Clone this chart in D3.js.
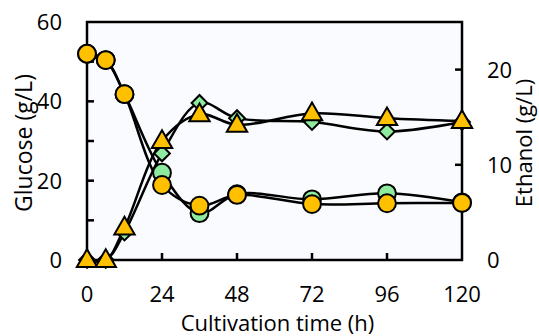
<!DOCTYPE html>
<html>
<head>
<meta charset="utf-8">
<script src="https://cdn.jsdelivr.net/npm/d3@7"></script>
<style>
  body { margin: 0; background: #fff; }
  text { font-family: "Open Sans", "Noto Sans", sans-serif; fill: #000; }
</style>
</head>
<body>
<div id="chart"></div>
<script>
// sampling times (h)
const times = [0, 6, 12, 24, 36, 48, 72, 96, 120];

// glucose (g/L), left axis
const glucoseGreen = [52, 50.4, 41.8, 22, 11.8, 16.6, 15.3, 16.8, 14.5];
const glucoseOrange = [52, 50.4, 41.8, 18.9, 13.7, 16.4, 14.1, 14.3, 14.4];

// ethanol (g/L), right axis
const ethanolGreen = [0, 0, 2.9, 11.2, 16.5, 14.9, 14.5, 13.5, 14.5];
const ethanolOrange = [0, 0, 3.4, 12.5, 15.3, 14.2, 15.4, 14.9, 14.6];

const xTicks = [0, 24, 48, 72, 96, 120];
const leftTicks = [0, 10, 20, 30, 40, 50, 60];
const leftLabels = [0, 20, 40, 60];
const rightTicks = [0, 10, 20];

const width = 539, height = 336;
const margin = {left: 87, right: 77, top: 22, bottom: 76};

const svg = d3.select('#chart').append('svg')
  .attr('width', width)
  .attr('height', height);

const x = d3.scaleLinear().domain([0, 120]).range([margin.left, width - margin.right]);
const yL = d3.scaleLinear().domain([0, 60]).range([height - margin.bottom, margin.top]);
const yR = d3.scaleLinear().domain([0, 25]).range([height - margin.bottom, margin.top]);

// plot background
svg.append('rect')
  .attr('x', x(0)).attr('y', yL(60))
  .attr('width', x(120) - x(0)).attr('height', yL(0) - yL(60))
  .attr('fill', '#f9fbff');

// inward ticks
const tickLen = 7;
svg.append('g').selectAll('line').data(xTicks.slice(1, -1)).join('line')
  .attr('x1', d => x(d)).attr('x2', d => x(d))
  .attr('y1', yL(0)).attr('y2', yL(0) - tickLen)
  .attr('stroke', '#000').attr('stroke-width', 2.5);
svg.append('g').selectAll('line').data(leftTicks.slice(1, -1)).join('line')
  .attr('x1', x(0)).attr('x2', x(0) + tickLen)
  .attr('y1', d => yL(d)).attr('y2', d => yL(d))
  .attr('stroke', '#000').attr('stroke-width', 2.5);
svg.append('g').selectAll('line').data(rightTicks.slice(1)).join('line')
  .attr('x1', x(120)).attr('x2', x(120) - tickLen)
  .attr('y1', d => yR(d)).attr('y2', d => yR(d))
  .attr('stroke', '#000').attr('stroke-width', 2.5);

// frame
svg.append('rect')
  .attr('x', x(0)).attr('y', yL(60))
  .attr('width', x(120) - x(0)).attr('height', yL(0) - yL(60))
  .attr('fill', 'none').attr('stroke', '#000').attr('stroke-width', 2.5);

// tick labels
svg.append('g').selectAll('text').data(xTicks).join('text')
  .attr('x', d => x(d)).attr('y', 302)
  .attr('text-anchor', 'middle').attr('font-size', 22)
  .text(d => d);
svg.append('g').selectAll('text').data(leftLabels).join('text')
  .attr('x', 62).attr('y', d => yL(d) + 8)
  .attr('text-anchor', 'end').attr('font-size', 22)
  .text(d => d);
svg.append('g').selectAll('text').data(rightTicks).join('text')
  .attr('x', 487).attr('y', d => yR(d) + 8)
  .attr('text-anchor', 'start').attr('font-size', 22)
  .text(d => d);

// axis titles
svg.append('text')
  .attr('transform', `translate(32,${(yL(0) + yL(60)) / 2 + 2}) rotate(-90)`)
  .attr('text-anchor', 'middle').attr('font-size', 23)
  .text('Glucose (g/L)');
svg.append('text')
  .attr('transform', `translate(532,${(yL(0) + yL(60)) / 2 + 2}) rotate(-90)`)
  .attr('text-anchor', 'middle').attr('font-size', 22)
  .text('Ethanol (g/L)');
svg.append('text')
  .attr('x', (x(0) + x(120)) / 2 + 3).attr('y', 331)
  .attr('text-anchor', 'middle').attr('font-size', 22)
  .text('Cultivation time (h)');

const green = '#8eea9e';
const orange = '#ffc000';

const series = [
  {vals: glucoseGreen, y: yL, sym: d3.symbolCircle, size: 250, rot: 0, dy: 0, fill: green},
  {vals: ethanolGreen, y: yR, sym: d3.symbolSquare, size: 125, rot: 45, dy: 0, fill: green},
  {vals: glucoseOrange, y: yL, sym: d3.symbolCircle, size: 250, rot: 0, dy: 0, fill: orange},
  {vals: ethanolOrange, y: yR, sym: d3.symbolTriangle, size: 180, rot: 0, dy: 1, fill: orange}
];

const line = d3.line().curve(d3.curveCatmullRom.alpha(0.5));

// lines first, then markers
series.forEach(s => {
  svg.append('path')
    .attr('d', line(times.map((t, i) => [x(t), s.y(s.vals[i])])))
    .attr('fill', 'none').attr('stroke', '#000').attr('stroke-width', 2.5);
});
series.forEach(s => {
  svg.append('g').selectAll('path').data(times).join('path')
    .attr('transform', (t, i) => `translate(${x(t)},${s.y(s.vals[i]) + s.dy}) rotate(${s.rot})`)
    .attr('d', d3.symbol().type(s.sym).size(s.size))
    .attr('fill', s.fill).attr('stroke', '#000').attr('stroke-width', 2);
});
</script>
</body>
</html>
